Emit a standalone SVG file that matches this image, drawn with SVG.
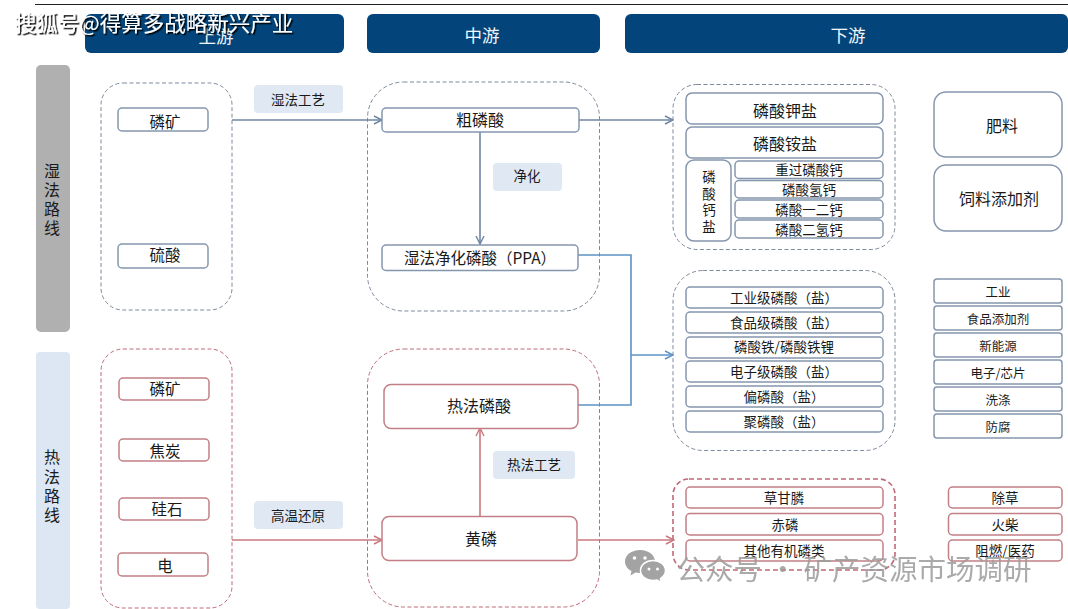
<svg xmlns="http://www.w3.org/2000/svg" width="1068" height="609" viewBox="0 0 1068 609">
<style>
text{font-family:"Noto Sans CJK SC","Liberation Sans",sans-serif;fill:#1a1a1a;text-anchor:middle;dominant-baseline:central}
.hd{fill:#03457a}
.hdt{fill:#f2f6fa;font-size:17.500px}
.db{fill:#fff;stroke:#7f8a9c;stroke-width:1;stroke-dasharray:4 2.5}
.dr{fill:#fff;stroke:#bd6a78;stroke-width:1;stroke-dasharray:4 2.5}
.dr2{fill:none;stroke:#bd6a78;stroke-width:1.6;stroke-dasharray:5 3}
.b{fill:#fff;stroke:#8496ae;stroke-width:1.5}
.r{fill:#fff;stroke:#c27f85;stroke-width:1.5}
.lab{fill:#dfe8f3}
.cb{fill:none;stroke:#6f84a3;stroke-width:1.6}
.cc{fill:none;stroke:#5b93c4;stroke-width:1.6}
.cr{fill:none;stroke:#c8777d;stroke-width:1.6}
.s16{font-size:16px}.s15{font-size:15.500px}.s14{font-size:14px}.s13{font-size:13.500px}.s12{font-size:12.500px}
.ttl{font-size:21.500px;fill:#fff;filter:url(#shadow)}
.wm{font-size:28.500px;fill:#9c9c9c;opacity:.85}
</style>
<defs>
<filter id="shadow" x="-5%" y="-20%" width="110%" height="140%"><feDropShadow dx="1.500" dy="1.500" stdDeviation="0.300" flood-color="#000"/></filter>
<marker id="ab" viewBox="0 0 10 10" refX="9" refY="5" markerWidth="10" markerHeight="10" markerUnits="userSpaceOnUse" orient="auto"><path d="M1 1L9 5L1 9" fill="none" stroke="#6f84a3" stroke-width="1.400"/></marker>
<marker id="ac" viewBox="0 0 10 10" refX="9" refY="5" markerWidth="10" markerHeight="10" markerUnits="userSpaceOnUse" orient="auto"><path d="M1 1L9 5L1 9" fill="none" stroke="#5b93c4" stroke-width="1.400"/></marker>
<marker id="ar" viewBox="0 0 10 10" refX="9" refY="5" markerWidth="10" markerHeight="10" markerUnits="userSpaceOnUse" orient="auto"><path d="M1 1L9 5L1 9" fill="none" stroke="#c8777d" stroke-width="1.400"/></marker>
</defs>
<rect width="1068" height="609" fill="#fff"/>
<line x1="35" y1="4.500" x2="1068" y2="4.500" stroke="#222" stroke-width="1"/>
<g id="header-up"><rect class="hd" x="85" y="14" width="259" height="39" rx="6"/><text class="hdt" x="216" y="35.500">上游</text></g>
<g id="header-mid"><rect class="hd" x="367" y="14" width="233" height="39" rx="6"/><text class="hdt" x="482" y="34">中游</text></g>
<g id="header-down"><rect class="hd" x="625" y="14" width="443" height="39" rx="6"/><text class="hdt" x="848" y="34">下游</text></g>
<g id="route-wet"><rect x="36" y="65" width="34" height="267" rx="5" fill="#b0b0b0"/><text class="s16" x="52" y="170">湿</text><text class="s16" x="52" y="189">法</text><text class="s16" x="52" y="208">路</text><text class="s16" x="52" y="227">线</text></g>
<g id="route-heat"><rect x="36" y="352" width="34" height="257" rx="4" fill="#dce7f3"/><text class="s16" x="52" y="456">热</text><text class="s16" x="52" y="476">法</text><text class="s16" x="52" y="495">路</text><text class="s16" x="52" y="514">线</text></g>
<g id="group-up-wet"><rect class="db" x="101" y="83" width="131" height="227" rx="22"/></g>
<g id="group-mid-wet"><rect class="db" x="367.500" y="82" width="232" height="229" rx="36"/></g>
<g id="group-up-heat"><rect class="dr" x="101" y="349" width="131" height="259" rx="22"/></g>
<g id="group-mid-heat"><rect class="dr" x="367.500" y="349" width="232" height="258" rx="36"/></g>
<g id="group-down-1"><rect class="db" x="673" y="84.500" width="222" height="165" rx="24"/></g>
<g id="group-down-2"><rect class="db" x="673" y="270.500" width="222" height="180" rx="30"/></g>
<g id="group-down-3"><rect class="dr2" x="673" y="479" width="222" height="91" rx="16"/></g>
<g id="connectors">
<path class="cb" d="M232 120H382" marker-end="url(#ab)"/>
<path class="cb" d="M579 120H673" marker-end="url(#ab)"/>
<path class="cb" d="M480 132V244" marker-end="url(#ab)"/>
<path class="cc" d="M578 255H631V405H578"/>
<path class="cc" d="M631 355H673" marker-end="url(#ac)"/>
<path class="cr" d="M232 540H382" marker-end="url(#ar)"/>
<path class="cr" d="M578 540H674" marker-end="url(#ar)"/>
<path class="cr" d="M480 516V428" marker-end="url(#ar)"/>
</g>
<g id="label-wet"><rect class="lab" x="254" y="85" width="89" height="28" rx="4"/><text class="s13" x="298" y="99">湿法工艺</text></g>
<g id="label-purify"><rect class="lab" x="493" y="163" width="69" height="28" rx="4"/><text class="s13" x="527" y="175">净化</text></g>
<g id="label-heat"><rect class="lab" x="493" y="451" width="82" height="28" rx="4"/><text class="s13" x="534" y="464">热法工艺</text></g>
<g id="label-high"><rect class="lab" x="254" y="501" width="89" height="28" rx="4"/><text class="s13" x="298" y="515">高温还原</text></g>
<g id="n-ore-wet"><rect class="b" x="118" y="108" width="90" height="23" rx="4"/><text class="s15" x="165" y="121">磷矿</text></g>
<g id="n-acid"><rect class="b" x="118" y="244" width="90" height="24" rx="4"/><text class="s15" x="165" y="254">硫酸</text></g>
<g id="n-crude"><rect class="b" x="382" y="108" width="197" height="24" rx="4"/><text class="s16" x="480" y="119">粗磷酸</text></g>
<g id="n-ppa"><rect class="b" x="382" y="245" width="196" height="25.500" rx="4"/><text class="s15" x="480" y="257">湿法净化磷酸（PPA）</text></g>
<g id="n-ore-heat"><rect class="r" x="119" y="378" width="90" height="22" rx="4"/><text class="s15" x="165" y="388">磷矿</text></g>
<g id="n-coke"><rect class="r" x="119" y="439" width="90" height="22" rx="4"/><text class="s15" x="165" y="450">焦炭</text></g>
<g id="n-si"><rect class="r" x="119" y="498" width="90" height="22" rx="4"/><text class="s15" x="167" y="508">硅石</text></g>
<g id="n-elec"><rect class="r" x="118" y="553" width="90" height="23" rx="4"/><text class="s15" x="165" y="565">电</text></g>
<g id="n-thermal"><rect class="r" x="384" y="384.500" width="194" height="44" rx="7"/><text class="s16" x="479" y="405">热法磷酸</text></g>
<g id="n-yellow"><rect class="r" x="382" y="516.500" width="195" height="44" rx="7"/><text class="s16" x="481" y="538">黄磷</text></g>
<g id="n-k"><rect class="b" x="686" y="93" width="197" height="31" rx="6"/><text class="s16" x="785" y="109.500">磷酸钾盐</text></g>
<g id="n-nh4"><rect class="b" x="686" y="127" width="197" height="31" rx="6"/><text class="s16" x="785" y="143">磷酸铵盐</text></g>
<g id="n-ca"><rect class="b" x="686" y="160" width="45" height="81" rx="8"/><text class="s13" x="709" y="176">磷</text><text class="s13" x="709" y="193">酸</text><text class="s13" x="709" y="209">钙</text><text class="s13" x="709" y="226">盐</text></g>
<g id="n-ca1"><rect class="b" x="735" y="161" width="148" height="17.500" rx="4"/><text class="s13" x="809" y="169">重过磷酸钙</text></g>
<g id="n-ca2"><rect class="b" x="735" y="180.500" width="148" height="17.500" rx="4"/><text class="s13" x="809" y="189">磷酸氢钙</text></g>
<g id="n-ca3"><rect class="b" x="735" y="200" width="148" height="18" rx="4"/><text class="s13" x="809" y="209">磷酸一二钙</text></g>
<g id="n-ca4"><rect class="b" x="735" y="220" width="148" height="18" rx="4"/><text class="s13" x="809" y="229">磷酸二氢钙</text></g>
<g id="n-fert"><rect class="b" x="934" y="92" width="128" height="65" rx="12"/><text class="s16" x="1002" y="125">肥料</text></g>
<g id="n-feed"><rect class="b" x="934" y="165" width="128" height="66" rx="12"/><text class="s16" x="999" y="198">饲料添加剂</text></g>
<g id="n-p1"><rect class="b" x="686" y="287" width="197" height="21" rx="4"/><text class="s13" x="784" y="297">工业级磷酸（盐）</text></g>
<g id="n-p2"><rect class="b" x="686" y="312" width="197" height="21" rx="4"/><text class="s13" x="784" y="322">食品级磷酸（盐）</text></g>
<g id="n-p3"><rect class="b" x="686" y="337" width="197" height="21" rx="4"/><text class="s13" x="784" y="346">磷酸铁/磷酸铁锂</text></g>
<g id="n-p4"><rect class="b" x="686" y="361" width="197" height="21" rx="4"/><text class="s13" x="784" y="371">电子级磷酸（盐）</text></g>
<g id="n-p5"><rect class="b" x="686" y="386" width="197" height="21" rx="4"/><text class="s13" x="784" y="396">偏磷酸（盐）</text></g>
<g id="n-p6"><rect class="b" x="686" y="411" width="197" height="21" rx="4"/><text class="s13" x="784" y="421">聚磷酸（盐）</text></g>
<g id="n-a1"><rect class="b" x="934" y="279" width="128" height="24" rx="3"/><text class="s12" x="998" y="291">工业</text></g>
<g id="n-a2"><rect class="b" x="934" y="306" width="128" height="24" rx="3"/><text class="s12" x="998" y="318">食品添加剂</text></g>
<g id="n-a3"><rect class="b" x="934" y="333" width="128" height="24" rx="3"/><text class="s12" x="998" y="345">新能源</text></g>
<g id="n-a4"><rect class="b" x="934" y="360" width="128" height="24" rx="3"/><text class="s12" x="998" y="372">电子/芯片</text></g>
<g id="n-a5"><rect class="b" x="934" y="387" width="128" height="24" rx="3"/><text class="s12" x="998" y="399">洗涤</text></g>
<g id="n-a6"><rect class="b" x="934" y="414" width="128" height="24" rx="3"/><text class="s12" x="998" y="426">防腐</text></g>
<g id="n-r1"><rect class="r" x="686" y="487" width="197" height="21" rx="4"/><text class="s13" x="784" y="497">草甘膦</text></g>
<g id="n-r2"><rect class="r" x="686" y="513.500" width="197" height="21.500" rx="4"/><text class="s13" x="785" y="524">赤磷</text></g>
<g id="n-r3"><rect class="r" x="686" y="540" width="197" height="21" rx="4"/><text class="s13" x="784" y="550">其他有机磷类</text></g>
<g id="n-u1"><rect class="r" x="948.500" y="487" width="113.500" height="21" rx="4"/><text class="s13" x="1005" y="497">除草</text></g>
<g id="n-u2"><rect class="r" x="948.500" y="513.500" width="113.500" height="21.500" rx="4"/><text class="s13" x="1005" y="524">火柴</text></g>
<g id="n-u3"><rect class="r" x="948.500" y="540" width="113.500" height="21" rx="4"/><text class="s13" x="1005" y="550">阻燃/医药</text></g>
<text class="ttl" x="154" y="21">搜狐号@得算多战略新兴产业</text>
<text class="wm" x="854" y="567">公众号 · 矿产资源市场调研</text>
<g id="wechat-mark"><path d="M640 550c8.500 0 15 5 15 11.500c0 6.500-6.500 11.500-15 11.500c-1.500 0-3 -0.200-4.500-0.500l-5 3l1-4.500c-4-2-6.500-5.500-6.500-9.500c0-6.500 6.500-11.500 15-11.500z" fill="#a3a3a3"/><path d="M653 560.500c7 0 12.500 4.500 12.500 10c0 3.500-2 6-5 8l1 4l-4.500-2.500c-1.500 .4-2.800 .5-4 .5c-7 0-12.500-4.500-12.500-10c0-5.500 5.500-10 12.500-10z" fill="#a3a3a3" stroke="#fff" stroke-width="1.500"/><g fill="#fff"><circle cx="634.500" cy="558" r="1.800"/><circle cx="645" cy="558" r="1.800"/><circle cx="649" cy="569" r="1.500"/><circle cx="657.500" cy="569" r="1.500"/></g></g>
</svg>
